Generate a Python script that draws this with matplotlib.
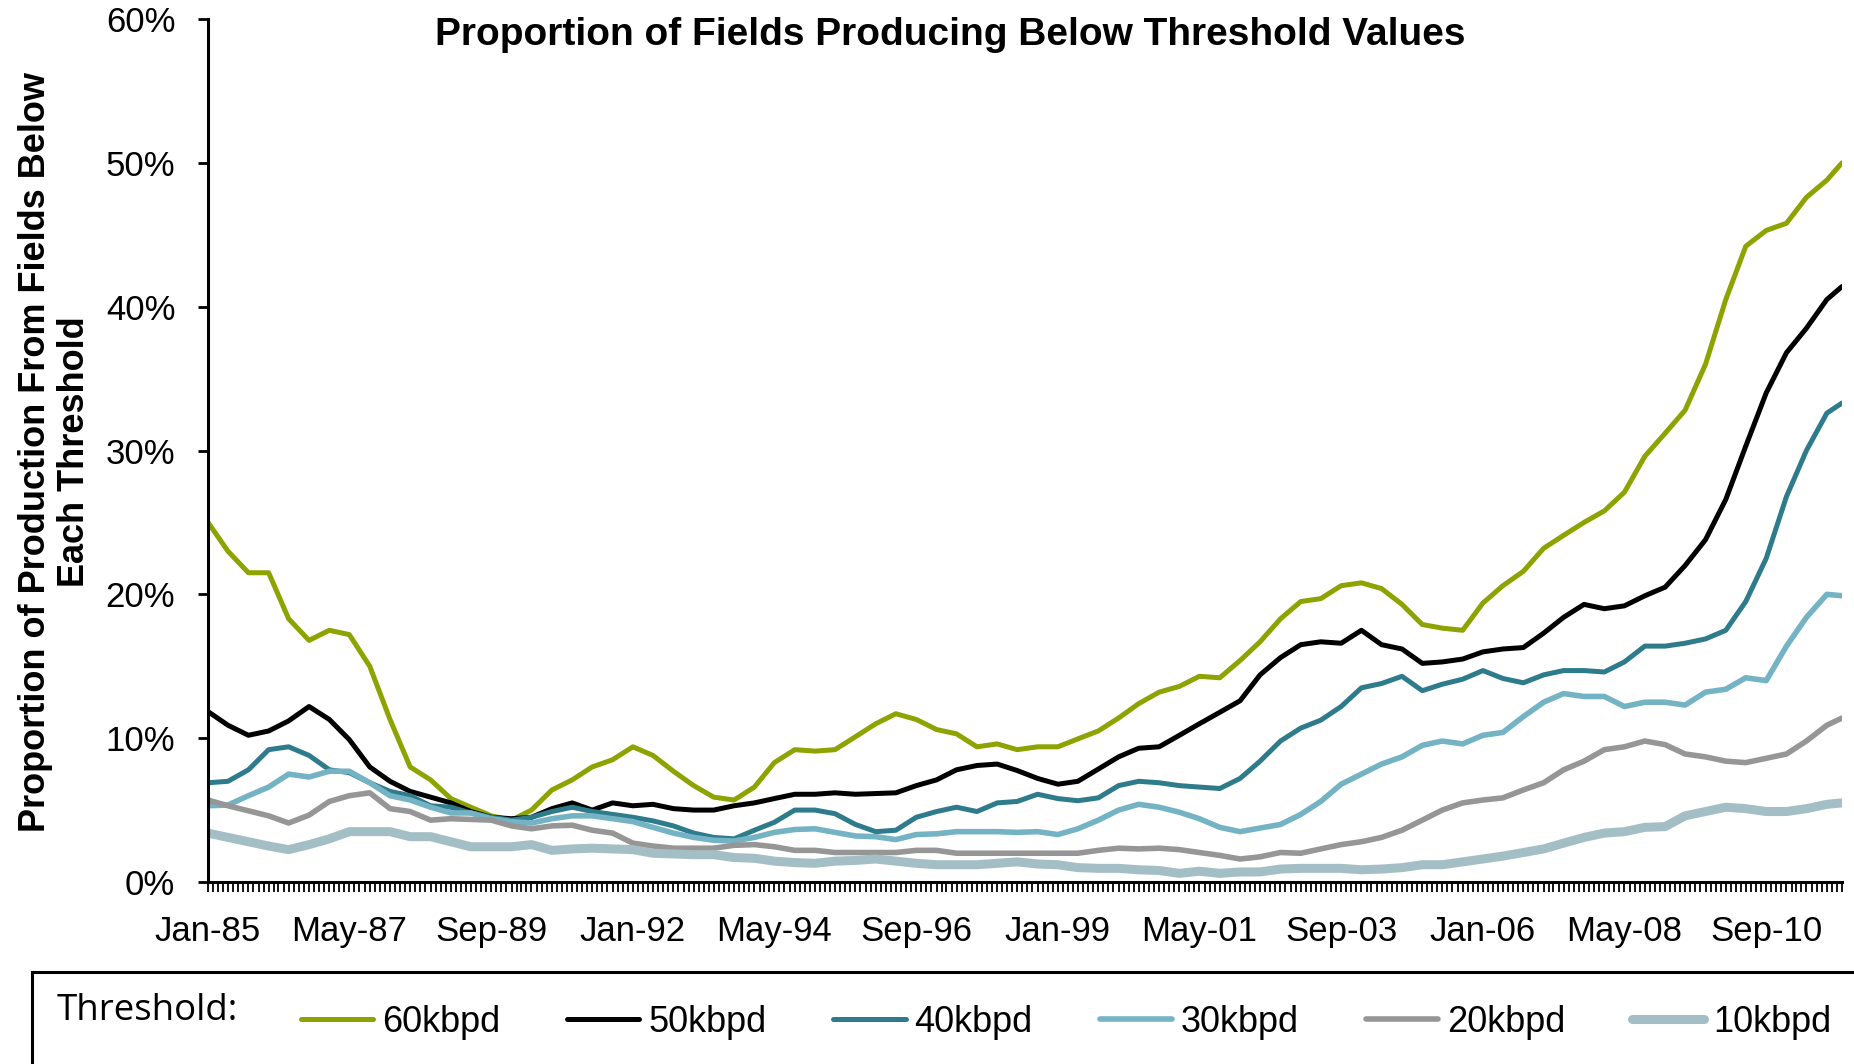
import matplotlib
matplotlib.use("Agg")
import matplotlib.pyplot as plt
from matplotlib.patches import Rectangle
from matplotlib.ticker import FuncFormatter
import pandas as pd

# ---------------- data (percent of production), sampled every 4 months ----------------
dates = pd.date_range("1985-01-01", "2011-09-01", freq="4MS").append(pd.DatetimeIndex(["2011-12-01"]))

kbpd60 = [25.0, 23.0, 21.5, 21.5, 18.3, 16.8, 17.5, 17.2, 15.0,
          11.3, 8.0, 7.1, 5.8, 5.2, 4.6, 4.3, 5.0, 6.4,
          7.1, 8.0, 8.5, 9.4, 8.8, 7.7, 6.7, 5.9, 5.7,
          6.6, 8.3, 9.2, 9.1, 9.2, 10.1, 11.0, 11.7, 11.3,
          10.6, 10.3, 9.4, 9.6, 9.2, 9.4, 9.4, 9.95, 10.5,
          11.4, 12.4, 13.2, 13.6, 14.3, 14.2, 15.4, 16.7, 18.3,
          19.5, 19.7, 20.6, 20.8, 20.4, 19.3, 17.9, 17.65, 17.5,
          19.4, 20.6, 21.6, 23.2, 24.1, 25.0, 25.8, 27.1, 29.6,
          31.2, 32.8, 36.0, 40.5, 44.2, 45.3, 45.8, 47.6, 48.8,
          50.0]
kbpd50 = [11.85, 10.9, 10.2, 10.5, 11.2, 12.2, 11.3, 9.9, 8.0,
          7.0, 6.3, 5.9, 5.5, 4.9, 4.5, 4.4, 4.5, 5.1,
          5.5, 5.0, 5.5, 5.3, 5.4, 5.1, 5.0, 5.0, 5.3,
          5.5, 5.8, 6.1, 6.1, 6.2, 6.1, 6.15, 6.2, 6.7,
          7.1, 7.8, 8.1, 8.2, 7.75, 7.2, 6.8, 7.0, 7.85,
          8.7, 9.3, 9.4, 10.2, 11.0, 11.8, 12.6, 14.4, 15.6,
          16.5, 16.7, 16.6, 17.5, 16.5, 16.2, 15.2, 15.3, 15.5,
          16.0, 16.2, 16.3, 17.3, 18.4, 19.3, 19.0, 19.2, 19.9,
          20.5, 22.0, 23.8, 26.6, 30.3, 34.0, 36.8, 38.5, 40.5,
          41.4]
kbpd40 = [6.9, 7.0, 7.8, 9.2, 9.4, 8.8, 7.8, 7.6, 6.9,
          6.3, 6.0, 5.3, 5.2, 4.8, 4.5, 4.3, 4.5, 4.9,
          5.2, 4.9, 4.7, 4.5, 4.25, 3.9, 3.4, 3.1, 3.0,
          3.6, 4.15, 5.0, 5.0, 4.75, 4.0, 3.5, 3.6, 4.5,
          4.9, 5.2, 4.9, 5.5, 5.6, 6.1, 5.8, 5.65, 5.85,
          6.7, 7.0, 6.9, 6.7, 6.6, 6.5, 7.2, 8.4, 9.8,
          10.7, 11.25, 12.2, 13.5, 13.8, 14.3, 13.3, 13.75, 14.1,
          14.7, 14.15, 13.85, 14.4, 14.7, 14.7, 14.6, 15.3, 16.4,
          16.4, 16.6, 16.9, 17.5, 19.5, 22.5, 26.8, 30.0, 32.6,
          33.3]
kbpd30 = [5.3, 5.35, 6.0, 6.6, 7.5, 7.3, 7.7, 7.7, 6.9,
          6.0, 5.7, 5.2, 4.8, 4.8, 4.4, 4.2, 4.1, 4.4,
          4.6, 4.6, 4.4, 4.2, 3.8, 3.4, 3.1, 2.9, 2.85,
          3.1, 3.45, 3.65, 3.7, 3.45, 3.2, 3.15, 2.95, 3.3,
          3.35, 3.5, 3.5, 3.5, 3.45, 3.5, 3.3, 3.7, 4.3,
          5.0, 5.4, 5.2, 4.85, 4.4, 3.8, 3.5, 3.75, 4.0,
          4.7, 5.6, 6.8, 7.5, 8.2, 8.7, 9.5, 9.8, 9.6,
          10.2, 10.4, 11.5, 12.5, 13.1, 12.9, 12.9, 12.2, 12.5,
          12.5, 12.3, 13.2, 13.4, 14.2, 14.0, 16.4, 18.4, 20.0,
          19.9]
kbpd20 = [5.7, 5.3, 4.95, 4.6, 4.1, 4.65, 5.6, 6.0, 6.2,
          5.1, 4.9, 4.3, 4.4, 4.35, 4.3, 3.9, 3.7, 3.9,
          3.95, 3.6, 3.4, 2.7, 2.5, 2.35, 2.35, 2.35, 2.55,
          2.6, 2.45, 2.2, 2.2, 2.05, 2.05, 2.05, 2.05, 2.2,
          2.2, 2.0, 2.0, 2.0, 2.0, 2.0, 2.0, 2.0, 2.2,
          2.35, 2.3, 2.35, 2.25, 2.05, 1.85, 1.6, 1.75, 2.05,
          2.0, 2.3, 2.6, 2.8, 3.1, 3.6, 4.3, 5.0, 5.5,
          5.7, 5.85, 6.4, 6.9, 7.8, 8.4, 9.2, 9.4, 9.8,
          9.55, 8.9, 8.7, 8.4, 8.3, 8.6, 8.9, 9.8, 10.9,
          11.4]
kbpd10 = [3.4, 3.1, 2.8, 2.5, 2.25, 2.6, 3.0, 3.5, 3.5,
          3.5, 3.15, 3.15, 2.8, 2.45, 2.45, 2.45, 2.6, 2.2,
          2.3, 2.35, 2.3, 2.25, 2.0, 1.95, 1.9, 1.9, 1.7,
          1.65, 1.45, 1.35, 1.3, 1.45, 1.5, 1.6, 1.45, 1.3,
          1.2, 1.2, 1.2, 1.3, 1.4, 1.25, 1.2, 1.0, 0.95,
          0.95, 0.85, 0.8, 0.6, 0.75, 0.6, 0.7, 0.7, 0.9,
          0.95, 0.95, 0.95, 0.85, 0.9, 1.0, 1.2, 1.2, 1.4,
          1.6, 1.8, 2.05, 2.3, 2.7, 3.1, 3.4, 3.5, 3.8,
          3.85, 4.6, 4.9, 5.2, 5.1, 4.9, 4.9, 5.1, 5.4,
          5.5]

series_names = ["60kbpd", "50kbpd", "40kbpd", "30kbpd", "20kbpd", "10kbpd"]
series_values = [kbpd60, kbpd50, kbpd40, kbpd30, kbpd20, kbpd10]
series_colors = ["#8CA300", "#000000", "#2E7B8C", "#74B3C4", "#969696", "#A3BEC5"]
series_widths = [3.6, 3.6, 3.6, 4.0, 4.0, 6.5]

yticks = [0, 10, 20, 30, 40, 50, 60]
label_every = 28
title = "Proportion of Fields Producing Below Threshold Values"
ylabel = "Proportion of Production From Fields Below\nEach Threshold"
legend_title = "Threshold:"

# ---------------- figure ----------------
W, H = 1854, 1064
fig = plt.figure(figsize=(W / 100, H / 100), dpi=100)
ax = fig.add_axes([208 / W, 182 / H, 1634 / W, 863 / H])

lines = []
for name, vals, col, lw in zip(series_names, series_values, series_colors, series_widths):
    ln, = ax.plot(dates, vals, color=col, lw=lw, label=name,
                  solid_joinstyle="round", solid_capstyle="round")
    lines.append(ln)

monthly = pd.date_range("1985-01-01", "2011-12-01", freq="MS")
ax.set_xlim(monthly[0], monthly[-1])
ax.set_ylim(0, 60)

ax.set_xticks(monthly)
ax.set_xticklabels([d.strftime("%b-%y") if i % label_every == 0 else "" for i, d in enumerate(monthly)])
ax.set_yticks(yticks)
ax.yaxis.set_major_formatter(FuncFormatter(lambda v, p: f"{v:.0f}%"))

for s in ["top", "right"]:
    ax.spines[s].set_visible(False)
for s in ["left", "bottom"]:
    ax.spines[s].set_linewidth(2.2)
    ax.spines[s].set_color("black")

ax.tick_params(axis="x", direction="out", length=7.5, width=1.3, pad=16,
               labelsize=25, colors="black")
ax.tick_params(axis="y", direction="out", length=7.5, width=2.0, pad=16,
               labelsize=25, colors="black")
for lab in ax.get_xticklabels() + ax.get_yticklabels():
    lab.set_fontfamily("Liberation Sans")

fig.text(950 / W, 1 - 35 / H, title, ha="center", va="center",
         fontsize=28, fontweight="bold", family="Liberation Sans")
fig.text(55 / W, 1 - 452 / H, ylabel, rotation=90, ha="center", va="center",
         multialignment="center", fontsize=26, fontweight="bold",
         family="Liberation Sans", linespacing=1.18)

# legend area
fig.patches.append(Rectangle((32 / W, -0.1), 1.2, 0.1 + (H - 972) / H,
                             transform=fig.transFigure, fill=False,
                             edgecolor="black", lw=2.2, clip_on=False))
fig.text(57 / W, 1 - 1011 / H, legend_title, ha="left", va="center",
         fontsize=26.4, family="Open Sans")
leg = fig.legend(handles=lines, labels=series_names, loc="center left",
                 bbox_to_anchor=(301 / W, 1 - 1022 / H), ncol=6, frameon=False,
                 fontsize=26, handlelength=2.0, handletextpad=0.25,
                 columnspacing=1.85, borderpad=0, borderaxespad=0)
for t in leg.get_texts():
    t.set_fontfamily("Liberation Sans")

fig.savefig("out.png", dpi=100)
